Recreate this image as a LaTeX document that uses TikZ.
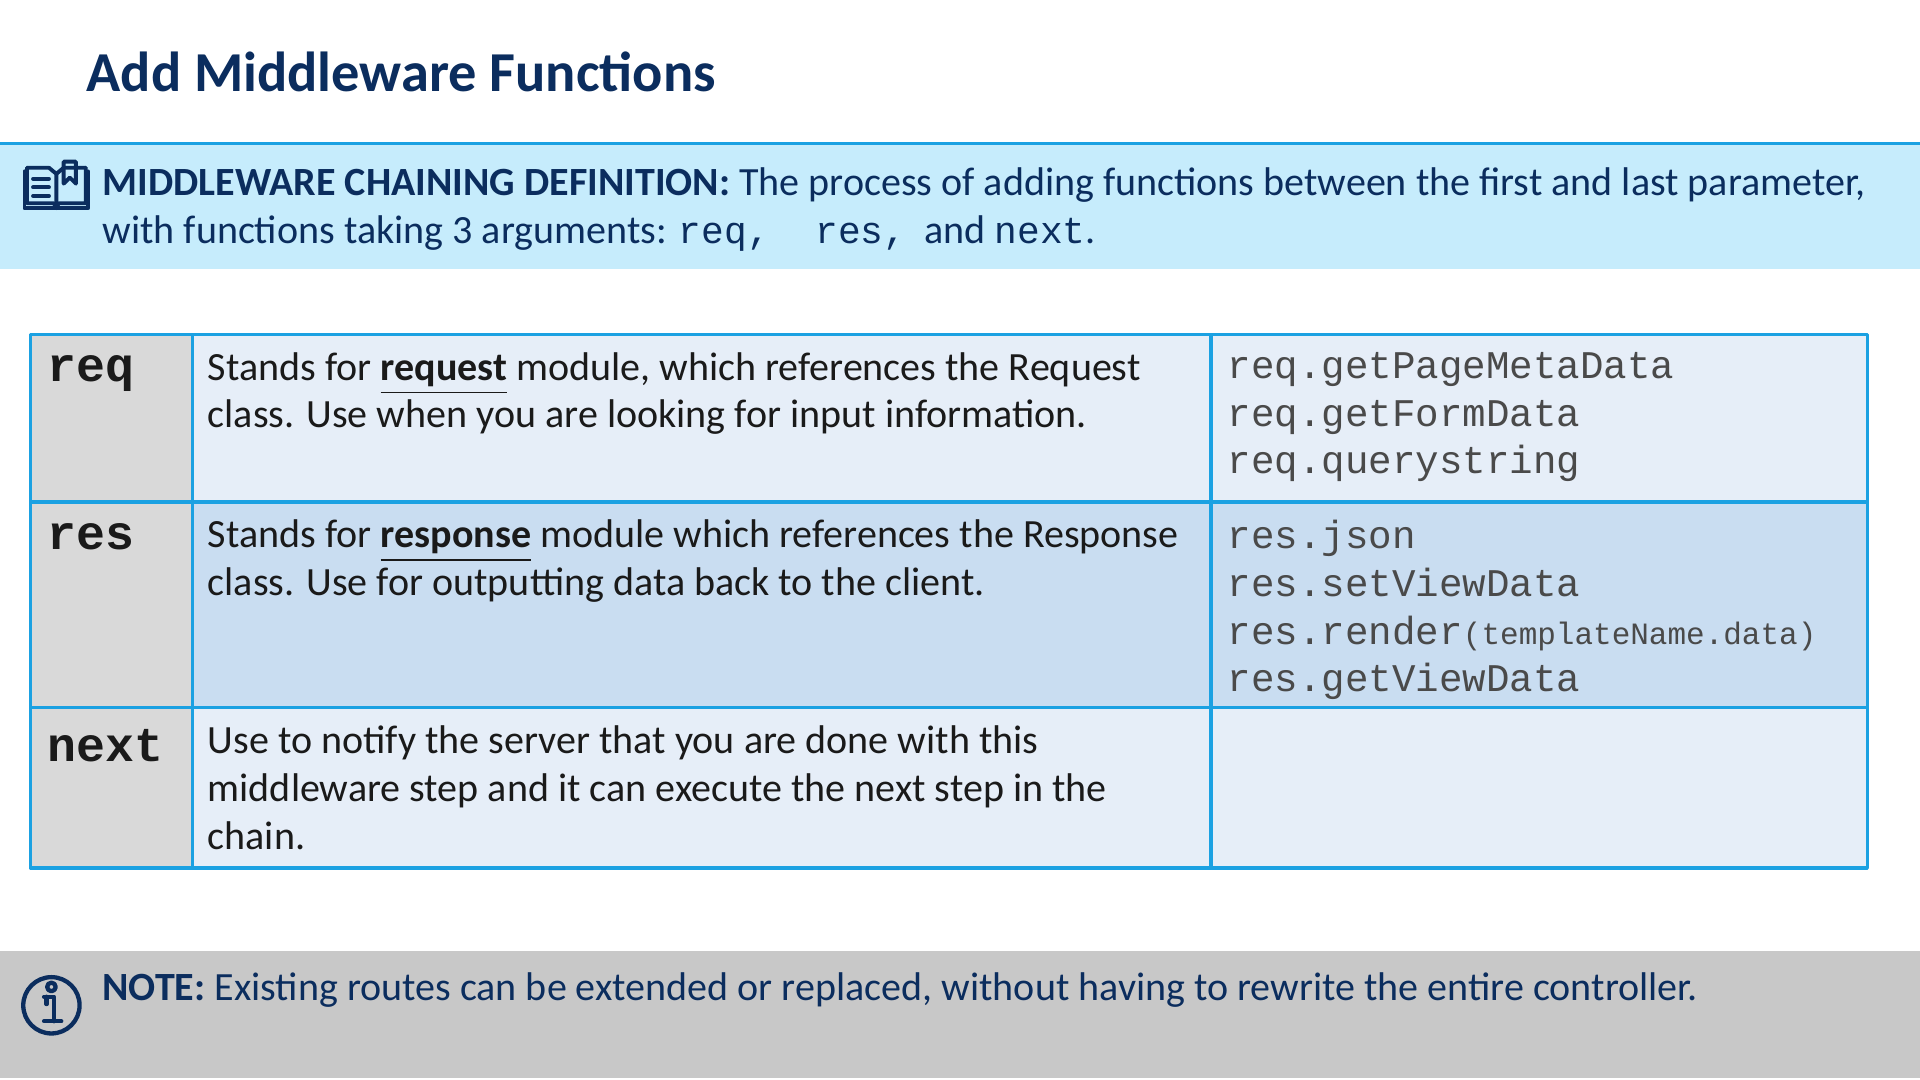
\documentclass[tikz,border=0pt]{standalone}
\usepackage{fontspec}
\setmainfont{Carlito}
\setmonofont{Liberation Mono}
\definecolor{navy}{HTML}{0B2D5E}
\definecolor{bandblue}{HTML}{C6ECFC}
\definecolor{lineblue}{HTML}{1BA1E2}
\definecolor{rowlight}{HTML}{E6EEF8}
\definecolor{rowdark}{HTML}{C9DDF1}
\definecolor{keygray}{HTML}{D9D9D9}
\definecolor{notegray}{HTML}{C8C8C8}
\definecolor{txt}{HTML}{1A1A1A}
\definecolor{codegray}{HTML}{4A4A4A}
\tikzset{
  cell/.style={draw=lineblue,line width=0.8pt},
  desc/.style={anchor=north west,inner sep=0pt,text width=8.1cm,align=flush left,font=\fontsize{9.3}{11.1}\selectfont,text=txt},
  code/.style={anchor=north west,inner sep=0pt,align=left,font=\ttfamily\fontsize{9.1}{11.1}\selectfont,text=codegray},
  key/.style={anchor=north west,inner sep=0pt,font=\ttfamily\bfseries\fontsize{11.2}{12}\selectfont,text=txt},
  band/.style={anchor=base west,inner sep=0pt,font=\fontsize{9.3}{11.1}\selectfont,text=navy}
}
\begin{document}
\begin{tikzpicture}[x=0.01cm,y=-0.01cm,line cap=round,line join=round]
  \useasboundingbox (0,0) rectangle (1568,882);
  \fill[white] (0,0) rectangle (1568,882);
  % title
  \node[anchor=base west,inner sep=0pt,font=\bfseries\fontsize{13.1}{15}\selectfont,text=navy] (title) at (70,75) {Add Middleware Functions};
  % definition band
  \fill[bandblue] (0,117) rectangle (1568,220);
  \draw[lineblue,line width=0.8pt] (0,117) -- (1568,117);
  \begin{scope}[navy,line width=0.9pt]
    \draw (20,140) -- (20,170) -- (72,170) -- (72,140);
    \draw (22,137) -- (22,166) -- (44,166) -- (46,170) -- (48,166) -- (70,166) -- (70,137);
    \draw (22,137) -- (40,137) -- (46,142) -- (46,166);
    \draw (46,142) -- (52,137) -- (70,137);
    \draw (52,132) -- (52,150) -- (57,145) -- (62,150) -- (62,132) -- cycle;
    \draw (27,146) -- (40,146) (27,153) -- (40,153) (27,160) -- (40,160);
  \end{scope}
  \node[band] (defa) at (83,160)
    {\textbf{MIDDLEWARE CHAINING DEFINITION:} The process of adding functions between the first and last parameter,};
  \node[band] (defb) at (83,199)
    {with functions taking 3 arguments: {\ttfamily\fontsize{8.8}{11}\selectfont req,~ res,}~ and {\ttfamily\fontsize{8.8}{11}\selectfont next}.};
  % table
  \fill[keygray] (25,273) rectangle (157,709);
  \fill[rowlight] (157,273) rectangle (1525,410);
  \fill[rowdark] (157,410) rectangle (1525,578);
  \fill[rowlight] (157,578) rectangle (1525,709);
  \foreach \ya/\yb in {273/410,410/578,578/709}{
    \draw[cell] (25,\ya) rectangle (157,\yb);
    \draw[cell] (157,\ya) rectangle (989,\yb);
    \draw[cell] (989,\ya) rectangle (1525,\yb);
  }
  \node[key] (kreq) at (38,290) {req};
  \node[key] (kres) at (38,427) {res};
  \node[key] (knext) at (38,595) {next};
  \node[desc] (dreq) at (169,287) {Stands for \textbf{\underline{request}} module, which references the Request class. Use when you are looking for input information.};
  \node[desc] (dres) at (169,424) {Stands for \textbf{\underline{response}} module which references the Response class. Use for outputting data back to the client.};
  \node[desc] (dnext) at (169,592) {Use to notify the server that you are done with this middleware step and it can execute the next step in the chain.};
  \node[code] (creq) at (1002,287) {req.getPageMetaData\\req.getFormData\\req.querystring};
  \node[code] (cres) at (1002,424) {res.json\\res.setViewData\\res.render{\fontsize{7.2}{11.1}\selectfont(templateName.data)}\\res.getViewData};
  % note band
  \fill[notegray] (0,777) rectangle (1568,880);
  \begin{scope}[navy,line width=1pt]
    \draw (42,821) circle (23);
    \draw (42,806) circle (3.5);
    \draw (36,814) -- (44,814) -- (44,834) (36,834) -- (50,834) (38,814) -- (38,820);
  \end{scope}
  \node[band] (note) at (83,817)
    {\textbf{NOTE:} Existing routes can be extended or replaced, without having to rewrite the entire controller.};
\end{tikzpicture}
\end{document}
